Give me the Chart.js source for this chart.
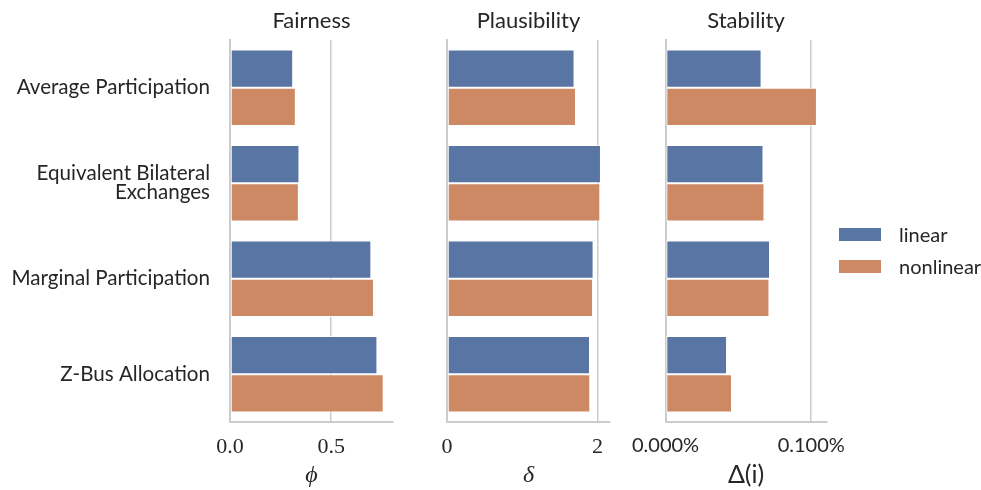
<!DOCTYPE html>
<html>
<head>
<meta charset="utf-8">
<title>Allocation methods: fairness, plausibility and stability</title>
<script src="https://cdn.jsdelivr.net/npm/chart.js@4.4.1/dist/chart.umd.min.js"></script>
<style>
  html, body { margin: 0; padding: 0; background: #ffffff; }
  #wrap { position: relative; width: 981px; height: 490px; overflow: hidden; }
  #wrap canvas { position: absolute; top: 0; }
  #legend { position: absolute; left: 839px; top: 224px; font-family: Lato, sans-serif; font-size: 20px; color: #262626; }
  #legend .item { position: relative; height: 32px; }
  #legend .swatch { position: absolute; left: 0; top: 4px; width: 42px; height: 13px; }
  #legend .label { position: absolute; left: 60px; top: -2px; line-height: 24px; white-space: nowrap; }
</style>
</head>
<body>
<div id="wrap">
  <canvas id="fairness" width="400" height="490" style="left:0px"></canvas>
  <canvas id="plausibility" width="220" height="490" style="left:400px"></canvas>
  <canvas id="stability" width="240" height="490" style="left:620px"></canvas>
  <div id="legend"></div>
</div>
<script>
// Allocation methods compared on the vertical axis
const categories = [
  'Average Participation',
  ['Equivalent Bilateral', 'Exchanges'],
  'Marginal Participation',
  'Z-Bus Allocation'
];
const seriesNames = ['linear', 'nonlinear'];

// Fairness (phi)
const fairnessLinear    = [0.312, 0.343, 0.698, 0.728];
const fairnessNonlinear = [0.325, 0.340, 0.711, 0.759];
const fairnessTicks = [0, 0.5];

// Plausibility (delta)
const plausibilityLinear    = [1.694, 2.045, 1.947, 1.899];
const plausibilityNonlinear = [1.713, 2.036, 1.940, 1.903];
const plausibilityTicks = [0, 2];

// Stability (Delta(i)), in percent
const stabilityLinear    = [0.0659, 0.0672, 0.0717, 0.0422];
const stabilityNonlinear = [0.1039, 0.0679, 0.0713, 0.0456];
const stabilityTicks = [0, 0.1];

const seriesColors = ['#5975a4', '#cc8963'];
const textColor = '#262626';
const lineColor = '#cccccc';
const sansFont = 'Lato, "Open Sans", sans-serif';
const serifFont = '"Liberation Serif", "DejaVu Serif", serif';

function makePanel(canvasId, cfg) {
  const datasets = [cfg.linear, cfg.nonlinear].map((values, i) => ({
    label: seriesNames[i],
    data: values,
    backgroundColor: seriesColors[i],
    borderColor: 'rgba(255,255,255,0.75)',
    borderWidth: 1,
    borderSkipped: false,
    categoryPercentage: 0.8,
    barPercentage: 1.0
  }));

  return new Chart(document.getElementById(canvasId), {
    type: 'bar',
    data: { labels: categories, datasets },
    options: {
      indexAxis: 'y',
      responsive: false,
      animation: false,
      events: [],
      layout: { padding: { left: 0, right: cfg.padRight, top: 0, bottom: 0 } },
      plugins: {
        legend: { display: false },
        tooltip: { enabled: false },
        title: {
          display: true,
          text: cfg.title,
          fullSize: false,
          color: textColor,
          font: { family: sansFont, size: 22, weight: 'normal' },
          padding: { top: 7.5, bottom: 6.1 }
        }
      },
      scales: {
        x: {
          type: 'linear',
          position: 'bottom',
          min: 0,
          max: cfg.max,
          afterBuildTicks: (scale) => { scale.ticks = cfg.ticks.map(v => ({ value: v })); },
          afterFit: (scale) => { scale.height = 68; },
          grid: { color: lineColor, lineWidth: 1.5, drawTicks: false },
          border: { color: lineColor, width: 2 },
          ticks: {
            color: textColor,
            padding: 12,
            maxRotation: 0,
            autoSkip: false,
            font: cfg.tickFont,
            callback: cfg.format
          },
          title: {
            display: true,
            text: cfg.axisTitle,
            color: textColor,
            font: cfg.axisTitleFont,
            padding: { top: 0, bottom: 0 }
          }
        },
        y: {
          type: 'category',
          afterFit: (scale) => { scale.width = cfg.axisWidth; },
          grid: { display: false, drawTicks: false },
          border: { color: lineColor, width: 2 },
          ticks: {
            display: cfg.showLabels,
            color: textColor,
            padding: 20,
            font: { family: sansFont, size: 20.6, lineHeight: 0.92 }
          }
        }
      }
    }
  });
}

makePanel('fairness', {
  title: 'Fairness',
  linear: fairnessLinear,
  nonlinear: fairnessNonlinear,
  ticks: fairnessTicks,
  max: 0.805,
  format: (v) => Number(v).toFixed(1),
  tickFont: { family: serifFont, size: 22 },
  axisTitle: '\u03d5',
  axisTitleFont: { family: serifFont, size: 24, style: 'italic' },
  axisWidth: 230,
  padRight: 7,
  showLabels: true
});

makePanel('plausibility', {
  title: 'Plausibility',
  linear: plausibilityLinear,
  nonlinear: plausibilityNonlinear,
  ticks: plausibilityTicks,
  max: 2.165,
  format: (v) => String(Number(v)),
  tickFont: { family: serifFont, size: 22 },
  axisTitle: '\u03b4',
  axisTitleFont: { family: serifFont, size: 24, style: 'italic' },
  axisWidth: 47,
  padRight: 10,
  showLabels: false
});

makePanel('stability', {
  title: 'Stability',
  linear: stabilityLinear,
  nonlinear: stabilityNonlinear,
  ticks: stabilityTicks,
  max: 0.1105,
  format: (v) => Number(v).toFixed(3) + '%',
  tickFont: { family: sansFont, size: 20 },
  axisTitle: '\u0394(i)',
  axisTitleFont: { family: sansFont, size: 25 },
  axisWidth: 44,
  padRight: 33,
  showLabels: false
});

// Shared legend for the two model variants
const legend = document.getElementById('legend');
seriesNames.forEach((name, i) => {
  const item = document.createElement('div');
  item.className = 'item';
  const sw = document.createElement('span');
  sw.className = 'swatch';
  sw.style.background = seriesColors[i];
  const lb = document.createElement('span');
  lb.className = 'label';
  lb.textContent = name;
  item.appendChild(sw);
  item.appendChild(lb);
  legend.appendChild(item);
});
</script>
</body>
</html>
